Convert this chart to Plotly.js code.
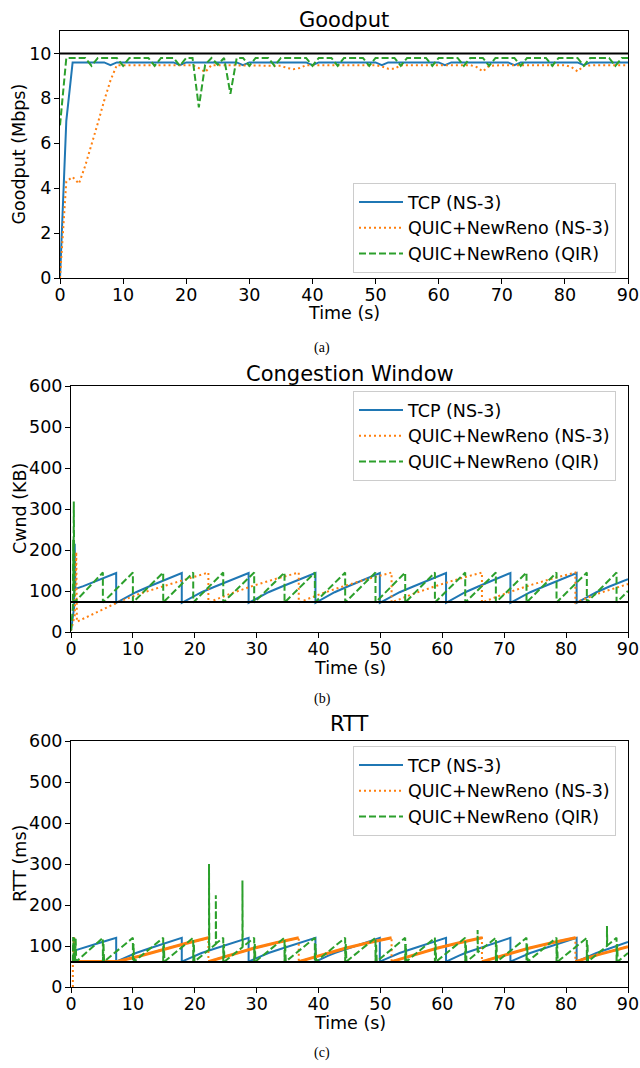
<!DOCTYPE html>
<html><head><meta charset="utf-8">
<script src="https://cdn.plot.ly/plotly-3.0.1.min.js"></script>
<style>html,body{margin:0;padding:0;background:#fff;} #chart{width:640px;height:1068px;}</style>
</head><body><div id="chart"></div>
<script>
// ---------- names / colours ----------
const seriesNames = ['TCP (NS-3)', 'QUIC+NewReno (NS-3)', 'QUIC+NewReno (QIR)'];
const seriesColors = ['#1f77b4', '#ff7f0e', '#2ca02c'];
const panelTitles = ['Goodput', 'Congestion Window', 'RTT'];
const yTitles = ['Goodput (Mbps)', 'Cwnd (KB)', 'RTT (ms)'];
const xTitle = 'Time (s)';
const captions = ['(a)', '(b)', '(c)'];

// ---------- Goodput (Mbps), sampled each second ----------
const goodputTime = [0,1,2,3,4,5,6,7,8,9,10,11,12,13,14,15,16,17,18,19,20,21,22,23,24,25,26,27,28,29,30,31,32,33,34,35,36,37,38,39,40,41,42,43,44,45,46,47,48,49,50,51,52,53,54,55,56,57,58,59,60,61,62,63,64,65,66,67,68,69,70,71,72,73,74,75,76,77,78,79,80,81,82,83,84,85,86,87,88,89,90];
const goodputTcp = [0, 7.0, 9.6, 9.6, 9.6, 9.6, 9.6, 9.6, 9.48, 9.6,
 9.6, 9.6, 9.6, 9.6, 9.6, 9.6, 9.6, 9.6, 9.6, 9.48,
 9.6, 9.6, 9.6, 9.6, 9.6, 9.6, 9.6, 9.6, 9.6, 9.48,
 9.6, 9.6, 9.6, 9.6, 9.6, 9.6, 9.6, 9.6, 9.6, 9.6,
 9.48, 9.6, 9.6, 9.6, 9.6, 9.6, 9.6, 9.6, 9.6, 9.6,
 9.6, 9.48, 9.6, 9.6, 9.6, 9.6, 9.6, 9.6, 9.6, 9.6,
 9.6, 9.48, 9.6, 9.6, 9.6, 9.6, 9.6, 9.6, 9.6, 9.6,
 9.6, 9.6, 9.48, 9.6, 9.6, 9.6, 9.6, 9.6, 9.6, 9.6,
 9.6, 9.6, 9.6, 9.48, 9.6, 9.6, 9.6, 9.6, 9.6, 9.6,
 9.6];
const goodputQuicNs3 = [0, 4.3, 4.5, 4.2, 5.0, 5.9, 6.9, 7.9, 8.8, 9.48,
 9.48, 9.48, 9.48, 9.48, 9.48, 9.48, 9.48, 9.48, 9.48, 9.48,
 9.48, 9.48, 9.35, 9.17, 9.48, 9.48, 9.48, 9.48, 9.48, 9.48,
 9.48, 9.48, 9.48, 9.48, 9.48, 9.45, 9.35, 9.3, 9.35, 9.48,
 9.48, 9.48, 9.48, 9.48, 9.48, 9.48, 9.48, 9.48, 9.48, 9.48,
 9.48, 9.42, 9.32, 9.32, 9.48, 9.48, 9.48, 9.48, 9.48, 9.48,
 9.48, 9.48, 9.48, 9.48, 9.48, 9.48, 9.4, 9.2, 9.45, 9.48,
 9.48, 9.48, 9.48, 9.48, 9.48, 9.48, 9.48, 9.48, 9.48, 9.48,
 9.48, 9.4, 9.2, 9.45, 9.48, 9.48, 9.48, 9.48, 9.48, 9.48,
 9.48];
const goodputQuicQir = [6.8, 9.8, 9.8, 9.8, 9.8, 9.45, 9.8, 9.8, 9.8, 9.8,
 9.45, 9.8, 9.8, 9.8, 9.8, 9.45, 9.8, 9.8, 9.8, 9.45,
 9.8, 9.8, 7.6, 9.5, 9.8, 9.5, 9.8, 8.2, 9.8, 9.8,
 9.45, 9.8, 9.8, 9.8, 9.45, 9.8, 9.8, 9.8, 9.8, 9.8,
 9.45, 9.8, 9.8, 9.8, 9.45, 9.8, 9.8, 9.8, 9.8, 9.45,
 9.8, 9.8, 9.8, 9.8, 9.45, 9.8, 9.8, 9.8, 9.8, 9.45,
 9.8, 9.8, 9.8, 9.8, 9.45, 9.8, 9.8, 9.8, 9.45, 9.8,
 9.8, 9.8, 9.8, 9.45, 9.8, 9.8, 9.8, 9.8, 9.45, 9.8,
 9.8, 9.8, 9.8, 9.45, 9.8, 9.8, 9.8, 9.8, 9.45, 9.8,
 9.8];
const linkCapacity = 10;

// ---------- Congestion window (KB) ----------
const cwndTcpTime = [0, 0.5, 0.6, 0.7, 2, 4, 6, 7.3,
 7.3, 8.4, 9.4, 10.5, 12.6, 14.7, 16.3, 17.9,
 17.9, 19.0, 20.1, 21.1, 23.3, 25.5, 27.1, 28.7,
 28.7, 29.8, 30.9, 31.9, 34.1, 36.3, 37.9, 39.5,
 39.5, 40.5, 41.6, 42.6, 44.7, 46.8, 48.3, 49.9,
 49.9, 51.0, 52.0, 53.1, 55.3, 57.4, 59.0, 60.6,
 60.6, 61.6, 62.7, 63.7, 65.8, 67.9, 69.4, 71.0,
 71.0, 72.1, 73.1, 74.2, 76.4, 78.5, 80.1, 81.7,
 81.7, 82.8, 83.8, 84.9, 87.0, 90];
const cwndTcp = [3, 60, 215, 105, 112, 124, 135, 144,
 71, 80, 89, 97, 111, 124, 135, 144,
 71, 80, 89, 97, 111, 124, 135, 144,
 71, 80, 89, 97, 111, 124, 135, 144,
 71, 80, 89, 97, 111, 124, 135, 144,
 71, 80, 89, 97, 111, 124, 135, 144,
 71, 80, 89, 97, 111, 124, 135, 144,
 71, 80, 89, 97, 111, 124, 135, 144,
 71, 80, 89, 97, 111, 129];
const cwndQuicNs3Time = [0, 0.6, 0.85, 0.95, 7.5, 11, 15, 18.5, 22.2,
 22.2, 25.85, 29.5, 33.15, 36.8,
 36.8, 40.55, 44.3, 48.05, 51.8,
 51.8, 55.45, 59.1, 62.75, 66.4,
 66.4, 70.2, 73.95, 77.7, 81.5,
 81.5, 85.2, 90];
const cwndQuicNs3 = [3, 40, 195, 25, 72, 93, 112, 128, 145,
 72, 94, 113, 130, 145,
 72, 94, 113, 130, 145,
 72, 94, 113, 130, 145,
 72, 94, 113, 130, 145,
 72, 94, 117];
const cwndQuicQirTime = [0, 0.3, 0.35, 0.4, 0.45, 0.55,
 5.15, 5.15, 10, 10, 14.9, 14.9, 19.75, 19.75, 24.6, 24.6, 29.6, 29.6,
 34.5, 34.5, 39.4, 39.4, 44.3, 44.3, 49.2, 49.2, 54.0, 54.0, 58.8, 58.8,
 63.7, 63.7, 68.65, 68.65, 73.6, 73.6, 78.45, 78.45, 83.35, 83.35, 88.15, 88.15, 90];
const cwndQuicQir = [3, 60, 225, 100, 318, 72,
 145, 72, 145, 72, 145, 72, 145, 72, 145, 72, 145, 72,
 145, 72, 145, 72, 145, 72, 145, 72, 145, 72, 145, 72,
 145, 72, 145, 72, 145, 72, 145, 72, 145, 72, 145, 72, 100];
const cwndReference = 73;

// ---------- RTT (ms) ----------
const rttTcpTime = [0.8, 2, 4, 6, 7.3,
 7.3, 8.4, 9.4, 10.5, 12.6, 14.7, 16.3, 17.9,
 17.9, 19.0, 20.1, 21.1, 23.3, 25.5, 27.1, 28.7,
 28.7, 29.8, 30.9, 31.9, 34.1, 36.3, 37.9, 39.5,
 39.5, 40.5, 41.6, 42.6, 44.7, 46.8, 48.3, 49.9,
 49.9, 51.0, 52.0, 53.1, 55.3, 57.4, 59.0, 60.6,
 60.6, 61.6, 62.7, 63.7, 65.8, 67.9, 69.4, 71.0,
 71.0, 72.1, 73.1, 74.2, 76.4, 78.5, 80.1, 81.7,
 81.7, 82.8, 83.8, 84.9, 87.0, 90];
const rttTcp = [90, 96, 105, 114, 120,
 62, 69.5, 76.5, 83, 94, 104, 112, 120,
 62, 69.5, 76.5, 83, 94, 104, 112, 120,
 62, 69.5, 76.5, 83, 94, 104, 112, 120,
 62, 69.5, 76.5, 83, 94, 104, 112, 120,
 62, 69.5, 76.5, 83, 94, 104, 112, 120,
 62, 69.5, 76.5, 83, 94, 104, 112, 120,
 62, 69.5, 76.5, 83, 94, 104, 112, 120,
 62, 69.5, 76.5, 83, 94, 110];
const rttQuicNs3Time = [0.3, 0.3, 0.45, 0.55, 7.5, 11, 15, 18.5, 22.2,
 22.2, 25.85, 29.5, 33.15, 36.8,
 36.8, 40.55, 44.3, 48.05, 51.8,
 51.8, 55.45, 59.1, 62.75, 66.4,
 66.4, 70.2, 73.95, 77.7, 81.5,
 81.5, 85.2, 90];
const rttQuicNs3 = [0, 62, 122, 62, 62, 75, 92, 106, 120,
 62, 79, 94.5, 108, 120,
 62, 79, 94.5, 108, 120,
 62, 79, 94.5, 108, 120,
 62, 79, 94.5, 108, 120,
 62, 79, 98];
const rttQuicQirTime = [0.3, 0.35, 0.45, 0.55, 0.65, 0.75, 0.85,
 5.15, 5.15, 5.25, 5.35,
 10, 10, 10.1, 10.2,
 14.9, 14.9, 15.0, 15.1,
 19.75, 19.75, 19.85, 19.95, 22.3, 22.3, 22.35, 23.4, 23.4, 23.45,
 24.6, 24.6, 24.7, 24.8, 27.7, 27.7, 27.75,
 29.6, 29.6, 29.7, 29.8,
 34.5, 34.5, 34.6, 34.7,
 39.4, 39.4, 39.5, 39.6,
 44.3, 44.3, 44.4, 44.5,
 49.2, 49.2, 49.3, 49.4,
 54.0, 54.0, 54.1, 54.2,
 58.8, 58.8, 58.9, 59.0,
 63.7, 63.7, 63.8, 63.9, 65.7, 65.7, 65.75,
 68.65, 68.65, 68.75, 68.85,
 73.6, 73.6, 73.7, 73.8,
 78.45, 78.45, 78.55, 78.65,
 83.35, 83.35, 83.45, 83.55, 86.6, 86.6, 86.65,
 88.15, 88.15, 88.25, 88.35, 90];
const rttQuicQir = [62, 122, 62, 120, 62, 118, 62,
 120, 62, 105, 62,
 120, 62, 105, 62,
 120, 62, 105, 62,
 120, 62, 105, 62, 91, 300, 92, 105, 224, 106,
 120, 62, 105, 62, 97, 260, 98,
 120, 62, 105, 62,
 120, 62, 105, 62,
 120, 62, 105, 62,
 120, 62, 105, 62,
 120, 62, 105, 62,
 120, 62, 105, 62,
 120, 62, 105, 62,
 120, 62, 105, 62, 84, 139, 85,
 120, 62, 105, 62,
 120, 62, 105, 62,
 120, 62, 105, 62,
 120, 62, 105, 62, 100, 149, 101,
 120, 62, 105, 62, 83];
const rttReference = 61;

// ---------- layout helpers ----------
const W = 640, H = 1068;
const px = v => v / W;
const py = v => (H - v) / H;
const FONT = 'DejaVu Sans, sans-serif';
const FS = 17.5;
const DASH = '7px,3px';
const DOT = '2px,3px';
const LW = 2;

function axisStyle(extra) {
  return Object.assign({
    showline: true, mirror: true, linecolor: '#000', linewidth: 1,
    ticks: 'outside', ticklen: 5, tickwidth: 1, tickcolor: '#000',
    showgrid: false, zeroline: false, fixedrange: true,
    tickfont: {family: FONT, size: FS, color: '#000'}
  }, extra);
}

const panels = [
  {x: [60, 628], y: [31, 278], yr: [0, 11], ydt: 2, leg: 'legend', ax: ['x', 'y'],
   series: [[goodputTime, goodputTcp], [goodputTime, goodputQuicNs3], [goodputTime, goodputQuicQir]],
   ref: linkCapacity, title: 20, xt: 313, cap: 348, legTop: 183},
  {x: [71, 628], y: [386, 632], yr: [0, 600], ydt: 100, leg: 'legend2', ax: ['x2', 'y2'],
   series: [[cwndTcpTime, cwndTcp], [cwndQuicNs3Time, cwndQuicNs3], [cwndQuicQirTime, cwndQuicQir]],
   ref: cwndReference, title: 374, xt: 668, cap: 699, legTop: 391},
  {x: [71, 628], y: [741, 987], yr: [0, 600], ydt: 100, leg: 'legend3', ax: ['x3', 'y3'],
   series: [[rttTcpTime, rttTcp], [rttQuicNs3Time, rttQuicNs3], [rttQuicQirTime, rttQuicQir]],
   ref: rttReference, title: 724, xt: 1023, cap: 1053, legTop: 746}
];

const data = [];
const layout = {
  width: W, height: H,
  margin: {l: 0, r: 0, t: 0, b: 0},
  paper_bgcolor: '#fff', plot_bgcolor: '#fff',
  font: {family: FONT, size: FS, color: '#000'},
  showlegend: true,
  annotations: [], shapes: []
};
const dashes = ['solid', DOT, DASH];

panels.forEach((p, i) => {
  const xa = i === 0 ? 'xaxis' : 'xaxis' + (i + 1);
  const ya = i === 0 ? 'yaxis' : 'yaxis' + (i + 1);
  layout[xa] = axisStyle({domain: [px(p.x[0]), px(p.x[1])], range: [0, 90], dtick: 10, tick0: 0,
    anchor: p.ax[1], ticklabelstandoff: -4});
  layout[ya] = axisStyle({domain: [py(p.y[1]), py(p.y[0])], range: p.yr, dtick: p.ydt, tick0: 0,
    anchor: p.ax[0], ticklabelstandoff: -1});
  layout[p.leg] = {
    x: px(353), y: py(p.legTop), xanchor: 'left', yanchor: 'top',
    bgcolor: 'rgba(255,255,255,0.8)', bordercolor: '#cccccc', borderwidth: 1,
    font: {family: FONT, size: FS, color: '#000'}, tracegroupgap: 4, traceorder: 'normal',
    itemwidth: 44
  };
  p.series.forEach((s, k) => {
    data.push({
      type: 'scatter', mode: 'lines', x: s[0], y: s[1], xaxis: p.ax[0], yaxis: p.ax[1],
      name: seriesNames[k], legend: p.leg, legendgroup: p.leg + k,
      line: {color: seriesColors[k], width: LW, dash: dashes[k]}
    });
  });
  // reference line
  layout.shapes.push({type: 'line', xref: p.ax[0] + ' domain', x0: 0, x1: 1, yref: p.ax[1],
    y0: p.ref, y1: p.ref, line: {color: '#000', width: 2}, layer: 'above'});
  // title, axis titles, caption
  const cx = px((p.x[0] + p.x[1]) / 2);
  layout.annotations.push({text: panelTitles[i], xref: 'paper', yref: 'paper', x: cx, y: py(p.title),
    xanchor: 'center', yanchor: 'middle', showarrow: false, font: {family: FONT, size: 21, color: '#000'}});
  layout.annotations.push({text: xTitle, xref: 'paper', yref: 'paper', x: cx, y: py(p.xt),
    xanchor: 'center', yanchor: 'middle', showarrow: false, font: {family: FONT, size: FS, color: '#000'}});
  layout.annotations.push({text: yTitles[i], xref: 'paper', yref: 'paper', x: px(i === 0 ? 18 : 20), y: py((p.y[0] + p.y[1]) / 2),
    xanchor: 'center', yanchor: 'middle', textangle: -90, showarrow: false, font: {family: FONT, size: FS, color: '#000'}});
  layout.annotations.push({text: captions[i], xref: 'paper', yref: 'paper', x: px(322), y: py(p.cap),
    xanchor: 'center', yanchor: 'middle', showarrow: false, font: {family: 'Liberation Serif, serif', size: 14, color: '#000'}});
});

// dense NS-3 QUIC RTT samples look like a thick line on the slow ramps
const thickX = [], thickY = [];
for (let i = 0; i < rttQuicNs3Time.length; i++) {
  thickX.push(rttQuicNs3Time[i]); thickY.push(rttQuicNs3[i]);
  if (i + 1 < rttQuicNs3Time.length && rttQuicNs3Time[i + 1] - rttQuicNs3Time[i] < 1) {
    thickX.push(null); thickY.push(null);
  }
}
data.splice(7, 0, {type: 'scatter', mode: 'lines', x: thickX, y: thickY, xaxis: 'x3', yaxis: 'y3',
  showlegend: false, line: {color: seriesColors[1], width: 3}, connectgaps: false, hoverinfo: 'skip'});

Plotly.newPlot('chart', data, layout, {staticPlot: true, displayModeBar: false});
</script></body></html>
